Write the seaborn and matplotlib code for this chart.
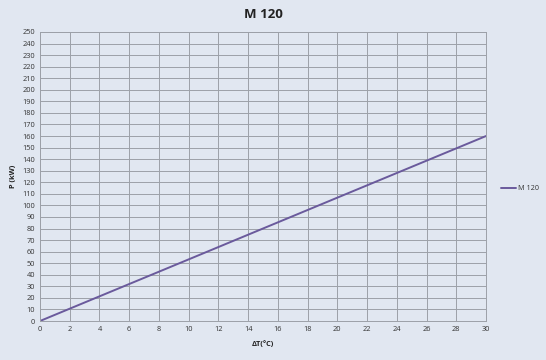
import matplotlib
matplotlib.use("Agg")
import matplotlib.pyplot as plt
import seaborn as sns
import pandas as pd

delta_t = [0, 10, 20, 30]
power_kw = [0, 53.3, 106.7, 160]
series_name = "M 120"
x_ticks = list(range(0, 31, 2))
y_ticks = list(range(0, 251, 10))

sns.set_theme(style="whitegrid")
plt.rcParams['font.family'] = ['Open Sans', 'DejaVu Sans']

bg = "#e1e7f1"
df = pd.DataFrame({"dT": delta_t, "P": power_kw, "series": series_name})

fig = plt.figure(figsize=(5.46, 3.6), dpi=100, facecolor=bg)
ax = fig.add_axes([40/546, 39/360, 446/546, 289/360])
ax.set_facecolor(bg)

sns.lineplot(data=df, x="dT", y="P", hue="series", palette=["#6a5a9c"],
             linewidth=1.4, ax=ax)

ax.set_xlim(0, 30)
ax.set_ylim(0, 250)
ax.set_xticks(x_ticks)
ax.set_yticks(y_ticks)
ax.tick_params(axis='both', labelsize=5.3, length=0, pad=3.5, colors="#333333")
ax.grid(True, color="#9ca0a8", linewidth=0.7)
for s in ax.spines.values():
    s.set_visible(True)
    s.set_color("#9ca0a8")
    s.set_linewidth(0.7)

ax.set_xlabel("ΔT(°C)", fontsize=5.3, fontweight="bold", labelpad=6, color="#222222")
ax.set_ylabel("P (kW)", fontsize=5.3, fontweight="bold", labelpad=4, color="#222222")
fig.text(263/546, 1 - 15/360, "M 120", ha="center", va="center",
         fontsize=9.5, fontweight="bold", color="#222222")

leg = ax.legend(loc="center left", bbox_to_anchor=(1.02, 0.457), frameon=False,
                fontsize=5.2, handlelength=2.0, handletextpad=0.35)
for t in leg.get_texts():
    t.set_color("#333333")

fig.savefig("out.png", dpi=100, facecolor=bg)
